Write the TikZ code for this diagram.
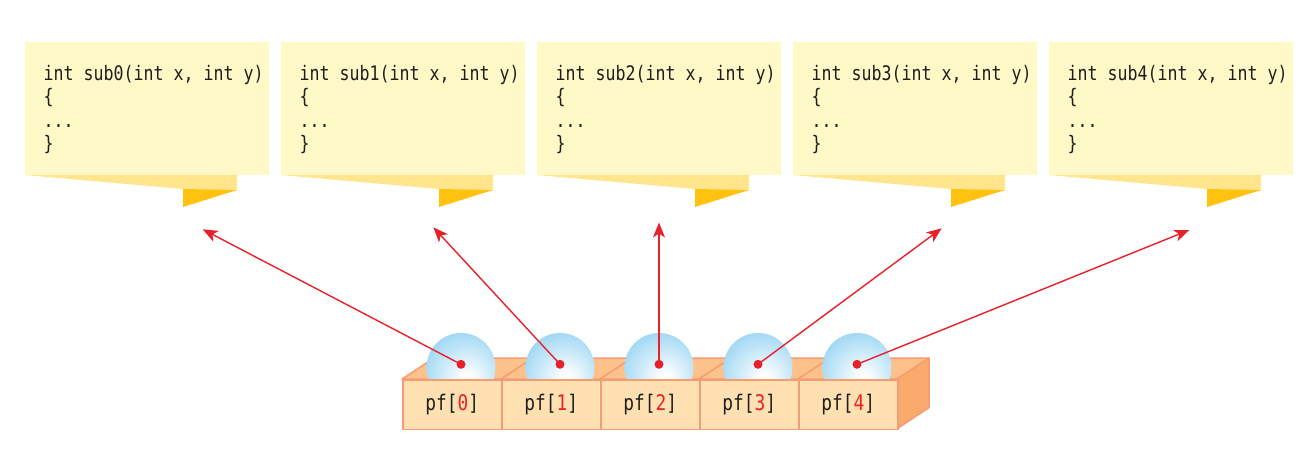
\documentclass[tikz,border=0pt]{standalone}
\usepackage{fontspec}
\newfontfamily\codefont[FakeStretch=0.83]{DejaVu Sans Mono}
\usetikzlibrary{arrows.meta}
\definecolor{notefill}{HTML}{FFF9C8}
\definecolor{notestrip}{HTML}{FFE68C}
\definecolor{notetri}{HTML}{FFC20F}
\definecolor{boxfront}{HTML}{FFE0B0}
\definecolor{boxtop}{HTML}{FDC289}
\definecolor{boxside}{HTML}{F9AA6C}
\definecolor{boxedge}{HTML}{F59C74}
\definecolor{sphblue}{HTML}{92D2F2}
\definecolor{ptrred}{HTML}{E8202A}
\definecolor{codeink}{HTML}{1E1E1E}
\pgfdeclareradialshading{sphereshade}{\pgfpoint{5bp}{-9bp}}{color(0bp)=(white); color(3bp)=(white); color(36bp)=(sphblue); color(80bp)=(sphblue)}
\tikzset{
  note/.style={rectangle, fill=notefill, draw=none, inner sep=0pt, minimum width=244pt, minimum height=133pt, anchor=north west},
  codetext/.style={anchor=north west, inner sep=0pt, align=left, text=codeink, font=\codefont\fontsize{20}{23.5}\selectfont},
  cell/.style={rectangle, draw=boxedge, line width=1.5pt, fill=boxfront, inner sep=0pt, minimum width=99pt, minimum height=49.7pt, text=codeink, font=\codefont\fontsize{21.5}{21.5}\selectfont},
  facetop/.style={fill=boxtop, draw=boxedge, line width=1.5pt, line join=round},
  faceside/.style={fill=boxside, draw=boxedge, line width=1.5pt, line join=round},
  sphere/.style={circle, minimum size=69pt, inner sep=0pt, shading=sphereshade},
  dot/.style={circle, fill=ptrred, minimum size=9pt, inner sep=0pt},
  ptr/.style={draw=ptrred, line width=1.4pt, -{Stealth[length=15pt, width=12pt, inset=4pt]}}
}
\begin{document}
\begin{tikzpicture}[x=1pt,y=-1pt]
\useasboundingbox (0,0) rectangle (1316,454);
% notes
\foreach \i in {0,...,4}{
  \pgfmathsetmacro{\L}{25+256*\i}
  \node[note] (n\i) at (\L,42) {};
  \fill[notestrip] (\L,175) -- (\L+212,175) -- (\L+212,191) -- (\L+158,189) -- cycle;
  \fill[notetri] (\L+158,189) -- (\L+212,190) -- (\L+158,207) -- cycle;
  \node[codetext] (t\i) at (\L+18.5,65) {int sub\i(int x, int y)\\\{\\...\\\}};
}
% box top and side faces
\filldraw[facetop] (402,379) -- (434,358) -- (929,358) -- (897,379) -- cycle;
\foreach \i in {1,...,4}{
  \draw[boxedge, line width=1.5pt] (402+99*\i,379) -- (434+99*\i,358);
}
\filldraw[faceside] (897,379) -- (929,358) -- (929,407.7) -- (897,428.7) -- cycle;
% spheres
\foreach \i in {0,...,4}{
  \node[sphere] (s\i) at (461+99*\i,367.5) {};
}
% front cells
\foreach \i in {0,...,4}{
  \node[cell, anchor=north west] (c\i) at (402+99*\i,379) {pf[\textcolor{ptrred}{\i}]};
}
% pointer dots
\foreach \i in {0,...,4}{
  \node[dot] (p\i) at (461+99*\i,364.3) {};
}
% arrow targets
\coordinate (a0) at (202.7,229.3);
\coordinate (a1) at (433.3,227.3);
\coordinate (a2) at (659,222.5);
\coordinate (a3) at (941.7,228.3);
\coordinate (a4) at (1189.3,230);
\foreach \i in {0,...,4}{
  \draw[ptr] (p\i.center) -- (a\i);
}
\end{tikzpicture}
\end{document}
